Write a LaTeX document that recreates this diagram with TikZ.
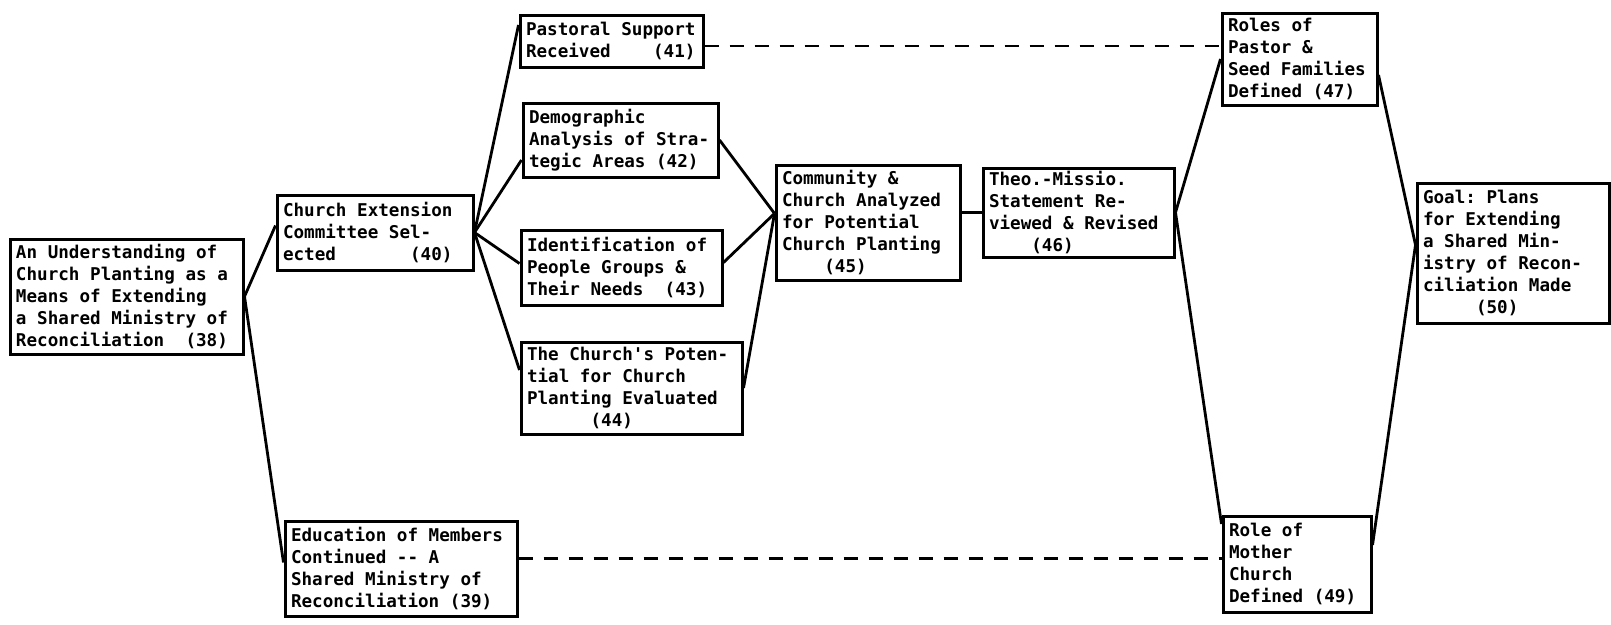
\documentclass[tikz,border=0pt]{standalone}
\usepackage{fontspec}
\setmonofont{DejaVu Sans Mono}
\usepackage{tikz}
\usetikzlibrary{calc,positioning}
\definecolor{ScanInk}{HTML}{000000}
\DeclareRobustCommand\typewriter{\ttfamily\bfseries\fontsize{17.6}{22}\selectfont\spaceskip=0.602em\relax}
\tikzset{
  stage/.style={draw=ScanInk,line width=3pt,align=flush left,inner xsep=6pt,inner ysep=2pt,text=ScanInk,font=\typewriter},
  link/.style={draw=ScanInk,line width=2.8pt},
  dashlink/.style={link,dash pattern=on 14pt off 11pt}
}

\begin{document}
\begin{tikzpicture}[x=1pt,y=-1pt]
  \useasboundingbox (0,0) rectangle (1611,624);

  \node[stage,text width=221pt,minimum height=115pt] (understand) at (126.5,296.5) {An Understanding of\\Church Planting as a\\Means of Extending\\a Shared Ministry of\\Reconciliation~~(38)};
  \node[stage,text width=184pt,minimum height=75pt] (committee) at (375,232.5) {Church Extension\\Committee Sel-\\ected~~~~~~~(40)};
  \node[stage,text width=220pt,minimum height=95pt] (education) at (401,568.5) {Education of Members\\Continued -- A\\Shared Ministry of\\Reconciliation (39)};

  \node[stage,text width=171pt,minimum height=52pt] (support) at (611.5,41) {Pastoral Support\\Received~~~~(41)};
  \node[stage,text width=183pt,minimum height=74pt] (demog) at (620.5,140) {Demographic\\Analysis of Stra-\\tegic Areas (42)};
  \node[stage,text width=189pt,minimum height=75pt] (peoples) at (621.5,267.5) {Identification of\\People Groups \&\\Their Needs~~(43)};
  \node[stage,text width=209pt,minimum height=92pt] (potential) at (631.5,388) {The Church's Poten-\\tial for Church\\Planting Evaluated\\\phantom{xxxxxx}(44)};

  \node[stage,text width=172pt,minimum height=115pt] (analyzed) at (868,222.5) {Community \&\\Church Analyzed\\for Potential\\Church Planting\\\phantom{xxxx}(45)};
  \node[stage,text width=179pt,minimum height=89pt] (statement) at (1078.5,212.5) {Theo.-Missio.\\Statement Re-\\viewed \& Revised\\\phantom{xxxx}(46)};

  \node[stage,text width=143pt,minimum height=92pt] (roles) at (1299.5,59) {Roles of\\Pastor \&\\Seed Families\\Defined (47)};
  \node[stage,text width=136pt,minimum height=96pt] (mother) at (1297,564) {Role of\\Mother\\Church\\Defined (49)};
  \node[stage,text width=180pt,minimum height=140pt] (goal) at (1513,253) {Goal: Plans\\for Extending\\a Shared Min-\\istry of Recon-\\ciliation Made\\\phantom{xxxxx}(50)};

  % fan out from the understanding
  \draw[link] (understand.east) -- ([yshift=7pt]committee.west);
  \draw[link] (understand.east) -- ([yshift=6pt]education.west);
  \draw[link] (committee.east) -- ([yshift=16pt]support.west);
  \draw[link] (committee.east) -- ([yshift=-20pt]demog.west);
  \draw[link] (committee.east) -- ([yshift=4pt]peoples.west);
  \draw[link] (committee.east) -- ([yshift=18pt]potential.west);

  % analyses join
  \draw[link] (demog.east) -- ([yshift=9pt]analyzed.west);
  \draw[link] ([yshift=5pt]peoples.east) -- ([yshift=9pt]analyzed.west);
  \draw[link] (potential.east) -- ([yshift=9pt]analyzed.west);
  \draw[link] (statement.west) -- (statement.west -| analyzed.east);

  % roles and goal
  \draw[link] (statement.east) -- (roles.west);
  \draw[link] (statement.east) -- ([yshift=40pt]mother.west);
  \draw[link] ([yshift=-16pt]roles.east) -- ([yshift=8pt]goal.west);
  \draw[link] ([yshift=19pt]mother.east) -- ([yshift=8pt]goal.west);

  \draw[dashlink] ([yshift=-5pt]support.east) -- ([yshift=-5pt]support.east -| roles.west);
  \draw[dashlink] ([yshift=10pt]education.east) -- ([yshift=10pt]education.east -| mother.west);
\end{tikzpicture}
\end{document}
